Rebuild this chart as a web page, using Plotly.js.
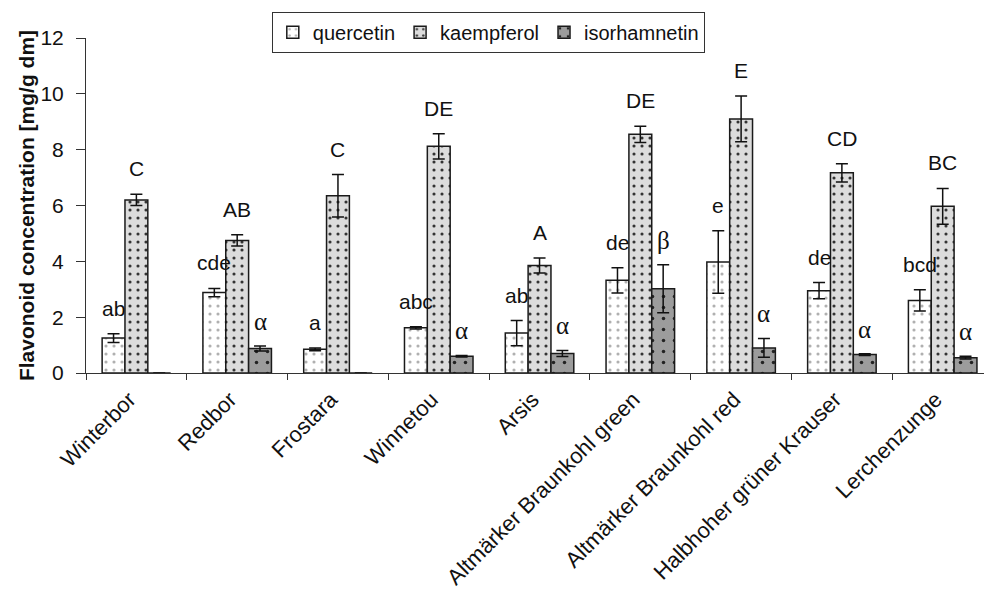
<!DOCTYPE html>
<html>
<head>
<meta charset="utf-8">
<script src="https://cdn.plot.ly/plotly-3.0.1.min.js"></script>
<style>html,body{margin:0;padding:0;background:#fff;}#chart{width:984px;height:592px;}</style>
</head>
<body>
<div id="chart"></div>
<script>
var categories = ["Winterbor", "Redbor", "Frostara", "Winnetou", "Arsis", "Altmärker Braunkohl green", "Altmärker Braunkohl red", "Halbhoher grüner Krauser", "Lerchenzunge"];
var quercetin = [1.25, 2.88, 0.85, 1.62, 1.43, 3.32, 3.98, 2.95, 2.6];
var quercetinErr = [0.16, 0.15, 0.05, 0.04, 0.45, 0.45, 1.12, 0.29, 0.38];
var kaempferol = [6.2, 4.75, 6.35, 8.12, 3.85, 8.55, 9.1, 7.17, 5.97];
var kaempferolErr = [0.2, 0.2, 0.76, 0.45, 0.27, 0.29, 0.82, 0.33, 0.64];
var isorhamnetin = [0, 0.88, 0, 0.6, 0.7, 3.02, 0.9, 0.66, 0.55];
var isorhamnetinErr = [0, 0.09, 0, 0.03, 0.11, 0.86, 0.34, 0.03, 0.05];
var quercetinLetters = ["ab", "cde", "a", "abc", "ab", "de", "e", "de", "bcd"];
var kaempferolLetters = ["C", "AB", "C", "DE", "A", "DE", "E", "CD", "BC"];
var isorhamnetinLetters = ["", "α", "", "α", "α", "β", "α", "α", "α"];

var FONT = "Liberation Sans, Arial, sans-serif";
var bargap = 0.32;
var series = [
  {name: "quercetin", y: quercetin, err: quercetinErr, letters: quercetinLetters, bg: "#ffffff", fg: "#b0b0b0", size: 8, sol: 0.12},
  {name: "kaempferol", y: kaempferol, err: kaempferolErr, letters: kaempferolLetters, bg: "#dcdcdc", fg: "#333333", size: 8, sol: 0.12},
  {name: "isorhamnetin", y: isorhamnetin, err: isorhamnetinErr, letters: isorhamnetinLetters, bg: "#9c9c9c", fg: "#222222", size: 11, sol: 0.08}
];

var traces = series.map(function (s) {
  return {
    type: "bar",
    name: s.name,
    x: categories,
    y: s.y,
    marker: {
      color: s.bg,
      line: {color: "#1a1a1a", width: 1.5},
      pattern: {shape: ".", bgcolor: s.bg, fgcolor: s.fg, size: s.size, solidity: s.sol, fillmode: "replace"}
    },
    error_y: {type: "data", array: s.err, visible: true, color: "#111111", thickness: 1.5, width: 6},
    hoverinfo: "none"
  };
});

var barW = (1 - bargap) / 3;
var annotations = [];
series.forEach(function (s, si) {
  s.letters.forEach(function (t, i) {
    if (!t) return;
    var greek = /[αβ]/.test(t);
    annotations.push({
      x: i + (si - 1) * barW,
      y: s.y[i] + s.err[i],
      xref: "x", yref: "y",
      text: t,
      showarrow: false,
      yanchor: "bottom",
      yshift: greek ? 9 : 12,
      font: greek ? {family: "Liberation Serif, serif", size: 25, color: "#111"} : {family: FONT, size: 21, color: "#111"}
    });
  });
});

var layout = {
  width: 984, height: 592,
  margin: {l: 86, r: 0, t: 38, b: 219},
  paper_bgcolor: "#fff", plot_bgcolor: "#fff",
  font: {family: FONT, color: "#111", size: 21},
  barmode: "group",
  bargap: bargap,
  bargroupgap: 0,
  showlegend: true,
  legend: {
    orientation: "h", x: 0.448, xanchor: "center", y: 1.078, yanchor: "top",
    bordercolor: "#333", borderwidth: 1, bgcolor: "#fff",
    font: {size: 20, family: FONT, color: "#111"},
    itemwidth: 30, tracegroupgap: 0
  },
  xaxis: {
    type: "category",
    range: [-0.5, 8.41],
    tickson: "boundaries",
    ticks: "outside", ticklen: 6, tickcolor: "#333", tickwidth: 1,
    showline: true, linecolor: "#333", linewidth: 1,
    showgrid: false, zeroline: false,
    tickangle: -45,
    ticklabelshift: -7,
    ticklabelstandoff: 4,
    tickfont: {size: 22, family: FONT, color: "#111"}
  },
  yaxis: {
    range: [0, 12],
    tickvals: [0, 2, 4, 6, 8, 10, 12],
    ticks: "outside", ticklen: 9, tickcolor: "#333",
    ticklabelstandoff: 8,
    showline: true, linecolor: "#333", linewidth: 1,
    showgrid: false, zeroline: false,
    tickfont: {size: 21, family: FONT, color: "#111"},
    title: {text: "<b>Flavonoid concentration [mg/g dm]</b>", font: {size: 21, family: FONT, color: "#111"}, standoff: 0}
  },
  annotations: annotations
};

Plotly.newPlot("chart", traces, layout, {displayModeBar: false, staticPlot: true});
</script>
</body>
</html>
